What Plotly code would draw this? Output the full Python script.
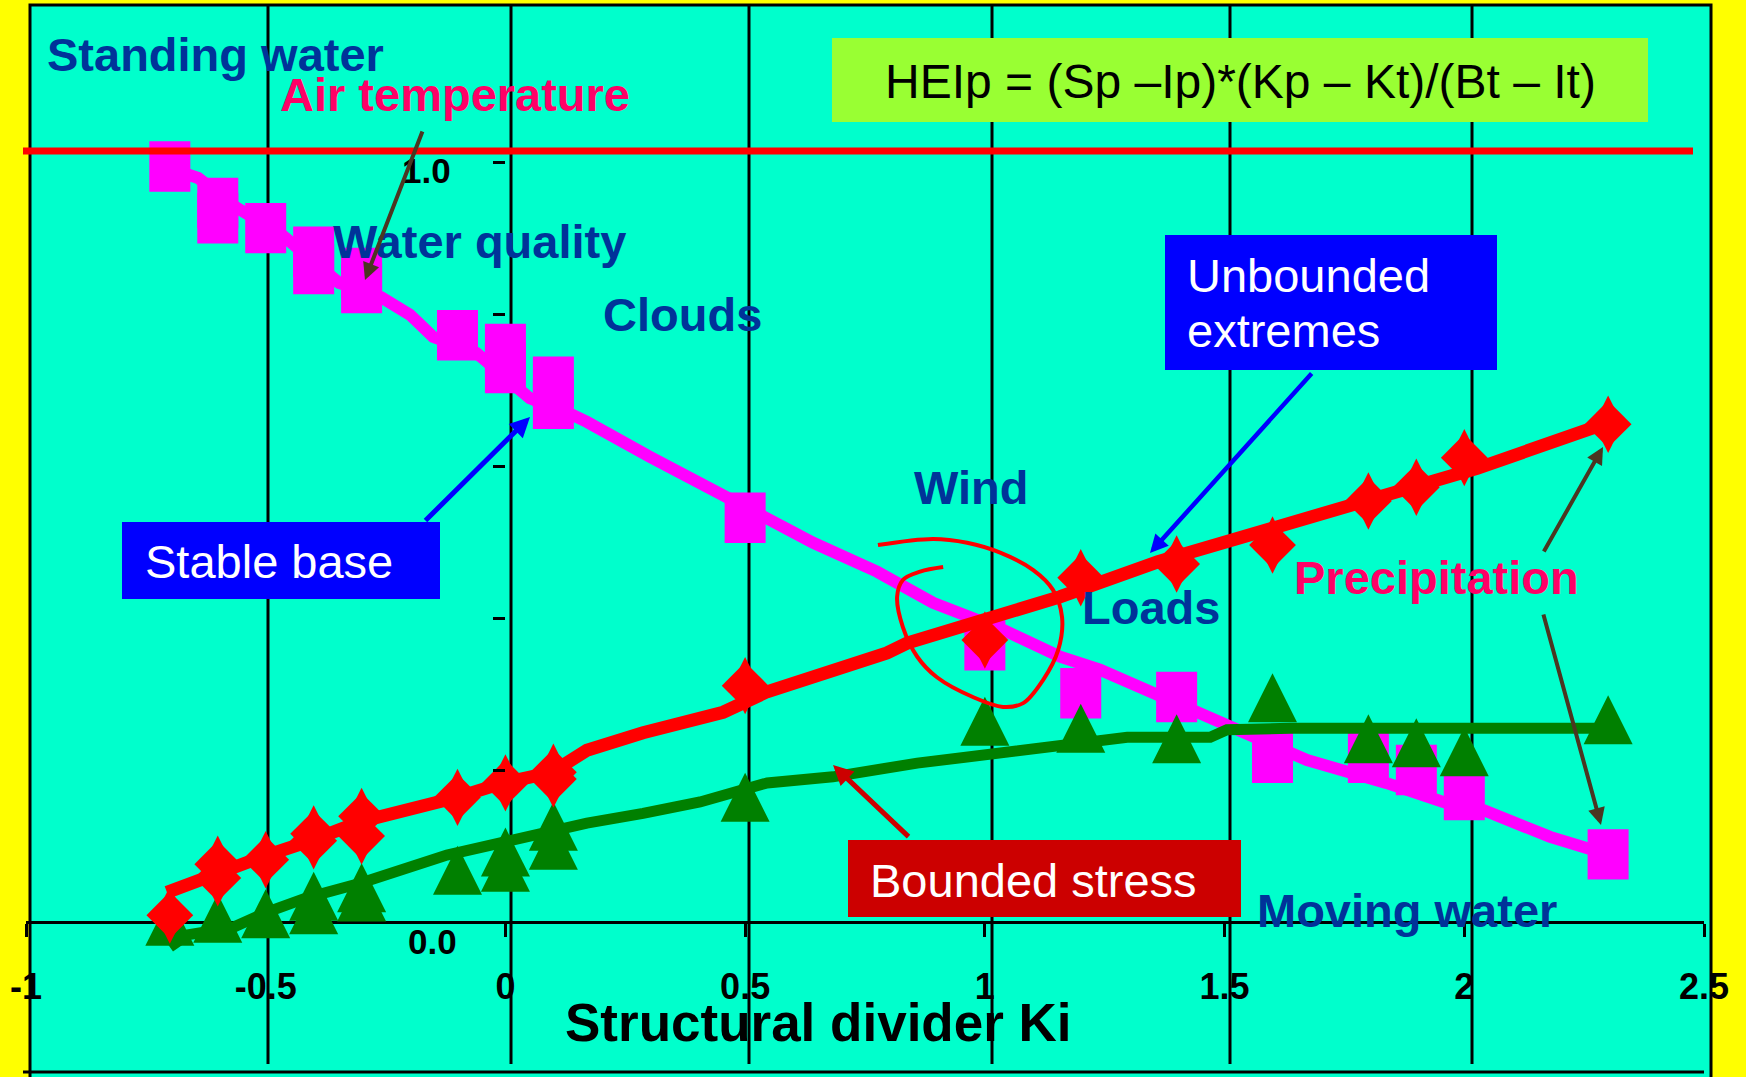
import plotly.graph_objects as go

# ---------------------------------------------------------------- data ----
# Stable base: magenta squares and the smoothed magenta curve
base_x = [-0.7, -0.6, -0.6, -0.5, -0.4, -0.4, -0.3, -0.3, -0.1, 0.0, 0.0,
          0.1, 0.1, 0.5, 1.0, 1.2, 1.4, 1.6, 1.8, 1.9, 2.0, 2.3]
base_y = [0.994, 0.946, 0.926, 0.913, 0.882, 0.859, 0.854, 0.834, 0.772, 0.754, 0.729,
          0.711, 0.682, 0.532, 0.364, 0.301, 0.296, 0.216, 0.216, 0.200, 0.167, 0.089]
base_curve_x = [-0.708, -0.641, -0.566, -0.466, -0.347, -0.259, -0.199, -0.151, -0.061, 0.051,
                0.137, 0.170, 0.302, 0.400, 0.537, 0.642, 0.775, 0.892, 1.040, 1.157,
                1.240, 1.324, 1.438, 1.551, 1.672, 1.837, 1.956, 2.041, 2.179, 2.298]
base_curve_y = [0.993, 0.979, 0.942, 0.904, 0.841, 0.822, 0.799, 0.770, 0.749, 0.689,
                0.668, 0.658, 0.612, 0.579, 0.533, 0.499, 0.461, 0.420, 0.384, 0.349,
                0.332, 0.309, 0.276, 0.246, 0.213, 0.183, 0.158, 0.147, 0.112, 0.089]

# Unbounded extremes: red diamonds and the red curve
ext_x = [-0.7, -0.6, -0.6, -0.5, -0.4, -0.4, -0.3, -0.3, -0.1, 0.0, 0.1,
         0.1, 0.5, 1.0, 1.2, 1.4, 1.6, 1.8, 1.9, 2.0, 2.3]
ext_y = [0.009, 0.076, 0.058, 0.082, 0.116, 0.107, 0.139, 0.113, 0.164, 0.183, 0.197,
         0.188, 0.311, 0.371, 0.453, 0.471, 0.496, 0.554, 0.572, 0.611, 0.655]
ext_curve_x = [-0.706, -0.606, -0.506, -0.401, -0.303, -0.101, -0.005, 0.097, 0.170, 0.287,
               0.454, 0.546, 0.719, 0.796, 0.838, 0.996, 1.157, 1.361, 1.756, 2.027, 2.300]
ext_curve_y = [0.039, 0.064, 0.086, 0.108, 0.132, 0.164, 0.183, 0.197, 0.226, 0.249,
               0.276, 0.303, 0.336, 0.354, 0.367, 0.397, 0.428, 0.474, 0.549, 0.597, 0.657]

# Bounded stress: green triangles and the green curve
stress_x = [-0.7, -0.6, -0.5, -0.4, -0.4, -0.3, -0.3, -0.1, 0.0, 0.0, 0.1,
            0.1, 0.5, 1.0, 1.2, 1.4, 1.6, 1.8, 1.9, 2.0, 2.3]
stress_y = [0.001, 0.005, 0.011, 0.034, 0.016, 0.045, 0.033, 0.068, 0.092, 0.072, 0.126,
            0.101, 0.164, 0.264, 0.255, 0.241, 0.295, 0.241, 0.236, 0.224, 0.266]
stress_curve_x = [-0.700, -0.664, -0.568, -0.497, -0.414, -0.303, -0.122, -0.005, 0.066, 0.170,
                  0.287, 0.406, 0.546, 0.683, 0.859, 1.017, 1.171, 1.297, 1.470, 1.505,
                  1.637, 2.298]
stress_curve_y = [-0.033, -0.017, -0.007, 0.013, 0.032, 0.051, 0.088, 0.105, 0.112, 0.130,
                  0.143, 0.158, 0.183, 0.191, 0.209, 0.222, 0.236, 0.243, 0.243, 0.253,
                  0.255, 0.255]

# Hand-drawn ring around the crossing point
ring_x = [0.777, 0.892, 0.963, 1.032, 1.101, 1.142, 1.161, 1.153, 1.121, 1.080,
          1.038, 0.975, 0.900, 0.859, 0.829, 0.817, 0.829, 0.865, 0.913]
ring_y = [0.496, 0.504, 0.499, 0.486, 0.463, 0.437, 0.401, 0.358, 0.318, 0.288,
          0.283, 0.296, 0.322, 0.349, 0.388, 0.428, 0.450, 0.461, 0.467]

x_tick_vals = [-1, -0.5, 0, 0.5, 1, 1.5, 2, 2.5]
x_tick_text = ["-1", "-0.5", "0", "0.5", "1", "1.5", "2", "2.5"]
y_tick_vals = [0, 0.2, 0.4, 0.6, 0.8, 1.0]

# -------------------------------------------------------------- layout ----
W, H = 1746, 1077
PLOT_L, PLOT_R, PLOT_T, PLOT_B = 26, 1704, 5, 1072
X_RANGE = [-1, 2.5]
ZERO_ROW, ONE_ROW = 922, 162            # pixel rows of y = 0 and y = 1
PX_PER_Y = ZERO_ROW - ONE_ROW
Y_RANGE = [(ZERO_ROW - PLOT_B) / PX_PER_Y, (ZERO_ROW - PLOT_T) / PX_PER_Y]

FONT = "Liberation Sans, Arial, Helvetica, sans-serif"
NAVY, PINK = "#003399", "#FF0066"
MAGENTA, RED, GREEN = "#FF00FF", "#FF0000", "#008000"
BROWN = "#4B3621"


def fx(px):
    """Pixel column -> paper fraction."""
    return (px - PLOT_L) / (PLOT_R - PLOT_L)


def fy(py):
    """Pixel row -> paper fraction."""
    return (PLOT_B - py) / (PLOT_B - PLOT_T)


fig = go.Figure()

# Stable base (a thick vertical stroke gives the upright rectangular square)
fig.add_trace(go.Scatter(x=base_curve_x, y=base_curve_y, mode="lines",
                         line=dict(color=MAGENTA, width=12), hoverinfo="skip"))
fig.add_trace(go.Scatter(x=base_x, y=base_y, mode="markers", name="Stable base",
                         marker=dict(symbol="line-ns", size=36, color=MAGENTA,
                                     line=dict(width=41, color=MAGENTA))))

# Bounded stress (arrow-up symbols have their tip at the point, so lift them by half a size)
TRI = 49
stress_plot_y = [v + (TRI / 2) / PX_PER_Y for v in stress_y]
fig.add_trace(go.Scatter(x=stress_curve_x, y=stress_curve_y, mode="lines",
                         line=dict(color=GREEN, width=11), hoverinfo="skip"))
fig.add_trace(go.Scatter(x=stress_x, y=stress_plot_y, mode="markers", name="Bounded stress",
                         customdata=stress_y, hovertemplate="%{x}, %{customdata}<extra></extra>",
                         marker=dict(symbol="arrow-up", size=TRI, color=GREEN)))

# Unbounded extremes (diamond + tall diamond make an upright diamond)
fig.add_trace(go.Scatter(x=ext_curve_x, y=ext_curve_y, mode="lines",
                         line=dict(color=RED, width=13), hoverinfo="skip"))
fig.add_trace(go.Scatter(x=ext_x, y=ext_y, mode="markers", name="Unbounded extremes",
                         marker=dict(symbol="diamond", size=36, color=RED)))
fig.add_trace(go.Scatter(x=ext_x, y=ext_y, mode="markers", hoverinfo="skip",
                         marker=dict(symbol="diamond-tall", size=41, color=RED)))

# Ring
fig.add_trace(go.Scatter(x=ring_x, y=ring_y, mode="lines", hoverinfo="skip",
                         line=dict(color=RED, width=4, shape="spline", smoothing=1.0)))

shapes = []
# panel
shapes.append(dict(type="rect", xref="paper", yref="paper", layer="below",
                   x0=fx(30), x1=fx(1711), y0=fy(1100), y1=fy(5),
                   fillcolor="#00FFCC", line=dict(color="black", width=3)))
# vertical rules
for gx in [268, 511, 749, 992, 1230, 1472]:
    shapes.append(dict(type="line", xref="paper", yref="paper", layer="below",
                       x0=fx(gx), x1=fx(gx), y0=fy(1064), y1=fy(5),
                       line=dict(color="black", width=3)))
# bottom rule
shapes.append(dict(type="line", xref="paper", yref="paper", layer="below",
                   x0=fx(23), x1=fx(1704), y0=fy(1072), y1=fy(1072),
                   line=dict(color="black", width=3)))
# red ceiling line
shapes.append(dict(type="line", xref="paper", yref="paper", layer="above",
                   x0=fx(23), x1=fx(1693), y0=fy(151), y1=fy(151),
                   line=dict(color=RED, width=7)))
# text boxes
for (x0, y0, x1, y1, col) in [(832, 38, 1648, 122, "#99FF33"),
                              (1165, 235, 1497, 370, "#0000FF"),
                              (122, 522, 440, 599, "#0000FF"),
                              (848, 840, 1241, 917, "#CC0000")]:
    shapes.append(dict(type="rect", xref="paper", yref="paper", layer="above",
                       x0=fx(x0), x1=fx(x1), y0=fy(y1), y1=fy(y0),
                       fillcolor=col, line=dict(width=0)))

annotations = []


def label(text, px, py, size=47, color=NAVY, bold=True, anchor="left"):
    annotations.append(dict(text=text, xref="paper", yref="paper", x=fx(px), y=fy(py),
                            xanchor=anchor, yanchor="middle", showarrow=False,
                            font=dict(family=FONT, size=size, color=color,
                                      weight="bold" if bold else "normal")))


label("Standing water", 45, 55)
label("Air temperature", 278, 94, color=PINK)
label("Water quality", 331, 241)
label("Clouds", 601, 315)
label("Wind", 912, 488)
label("Loads", 1080, 607)
label("Precipitation", 1292, 577, color=PINK)
label("Moving water", 1255, 910)
label("Structural divider Ki", 818, 1022, size=53, color="black", anchor="center")
label("1.0", 426, 170, size=35, color="black", anchor="center")
label("0.0", 432, 941, size=35, color="black", anchor="center")
label("HEIp = (Sp \u2013Ip)*(Kp \u2013 Kt)/(Bt \u2013 It)", 1240, 82, size=48,
      color="black", bold=False, anchor="center")
label("Unbounded", 1185, 275, color="white", bold=False)
label("extremes", 1185, 331, color="white", bold=False)
label("Stable base", 143, 561, color="white", bold=False)
label("Bounded stress", 868, 880, color="white", bold=False)


def arrow(tail, head, color, width, size):
    annotations.append(dict(text="", xref="paper", yref="paper",
                            x=fx(head[0]), y=fy(head[1]),
                            ax=tail[0] - head[0], ay=tail[1] - head[1],
                            showarrow=True, arrowhead=2, arrowsize=size,
                            arrowwidth=width, arrowcolor=color, standoff=0))


arrow((423, 130), (365, 280), BROWN, 4, 0.85)
arrow((424, 522), (530, 417), "#0000FF", 5, 0.8)
arrow((1313, 372), (1150, 553), "#0000FF", 4.5, 0.8)
arrow((1543, 553), (1603, 447), BROWN, 4, 0.85)
arrow((1543, 613), (1601, 825), BROWN, 4, 0.85)
arrow((910, 838), (833, 765), "#CC0000", 5, 0.8)

fig.update_layout(
    width=W, height=H,
    margin=dict(l=PLOT_L, r=W - PLOT_R, t=PLOT_T, b=H - PLOT_B),
    paper_bgcolor="#FFFF00",
    plot_bgcolor="rgba(0,0,0,0)",
    showlegend=False,
    shapes=shapes,
    annotations=annotations,
    xaxis=dict(range=X_RANGE, anchor="free", position=fy(ZERO_ROW),
               showline=True, linecolor="black", linewidth=3,
               ticks="outside", ticklen=13, tickwidth=3, tickcolor="black",
               tickvals=x_tick_vals, ticktext=x_tick_text, ticklabelstandoff=19,
               tickfont=dict(family=FONT, size=36, color="black", weight="bold"),
               showgrid=False, zeroline=False, layer="below traces", fixedrange=True),
    yaxis=dict(range=Y_RANGE, anchor="free", position=fx(PLOT_L + (0 - X_RANGE[0]) /
                                                        (X_RANGE[1] - X_RANGE[0]) * (PLOT_R - PLOT_L)),
               showline=False, ticks="outside", ticklen=12, tickwidth=3, tickcolor="black",
               tickvals=y_tick_vals, showticklabels=False,
               showgrid=False, zeroline=False, fixedrange=True),
)

fig.write_html("out.html")
